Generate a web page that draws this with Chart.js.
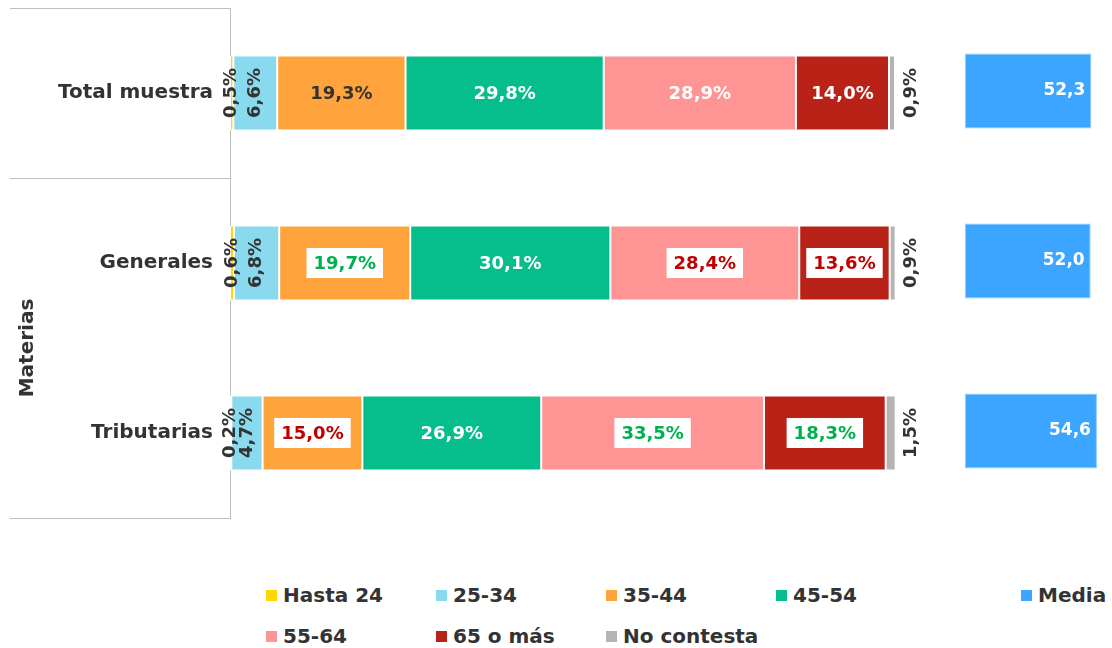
<!DOCTYPE html>
<html>
<head>
<meta charset="utf-8">
<script src="https://cdn.jsdelivr.net/npm/chart.js@4"></script>
<style>
body{margin:0;background:#fff;font-family:'DejaVu Sans',sans-serif;}
#wrap{position:relative;width:1112px;height:648px;overflow:hidden;}
#main{position:absolute;left:0;top:0;}
#media{position:absolute;left:930px;top:0;}
.leg{position:absolute;display:flex;align-items:center;height:24px;font-weight:bold;font-size:20px;color:#333;white-space:nowrap;}
.leg i{display:inline-block;width:11px;height:11px;margin-right:6px;}
</style>
</head>
<body>
<div id="wrap">
<canvas id="main" width="940" height="540"></canvas>
<canvas id="media" width="182" height="540"></canvas>
<div id="legend"></div>
</div>
<script>
var categories = ['Total muestra', 'Generales', 'Tributarias'];
var ageGroups = ['Hasta 24', '25-34', '35-44', '45-54', '55-64', '65 o más', 'No contesta'];
var ageColors = ['#ffd800', '#89d9ef', '#ffa33c', '#06bd8c', '#ff9494', '#b92317', '#b4b4b4'];

// % per age group, one array per row
var totalMuestra = [0.5, 6.6, 19.3, 29.8, 28.9, 14.0, 0.9];
var generales = [0.6, 6.8, 19.7, 30.1, 28.4, 13.6, 0.9];
var tributarias = [0.2, 4.7, 15.0, 26.9, 33.5, 18.3, 1.5];

// difference vs total: 1 higher (green), -1 lower (red)
var sigTotal = [0, 0, 0, 0, 0, 0, 0];
var sigGenerales = [0, 0, 1, 0, -1, -1, 0];
var sigTributarias = [0, 0, -1, 0, 1, 1, 0];

var mediaLabel = 'Media';
var mediaColor = '#3ca5ff';
var media = [52.3, 52.0, 54.6];

var groupTitle = 'Materias';

var rows = [totalMuestra, generales, tributarias];
var sigs = [sigTotal, sigGenerales, sigTributarias];
var textDark = '#333333';

function fmt(v, pct) {
	return v.toFixed(1).replace('.', ',') + (pct ? '%' : '');
}

var datasets = ageGroups.map(function(name, gi) {
	return {
		label: name,
		data: rows.map(function(r) { return r[gi]; }),
		backgroundColor: ageColors[gi],
		borderColor: '#ffffff',
		borderWidth: 1,
		borderSkipped: false,
		barPercentage: 0.44,
		categoryPercentage: 1
	};
});

function drawRotated(ctx, txt, x, y) {
	ctx.save();
	ctx.translate(x, y);
	ctx.rotate(-Math.PI / 2);
	ctx.fillText(txt, 0, 0);
	ctx.restore();
}

var segmentLabels = {
	id: 'segmentLabels',
	afterDatasetsDraw: function(chart) {
		var ctx = chart.ctx;
		ctx.save();
		ctx.font = 'bold 18px "DejaVu Sans"';
		ctx.textAlign = 'center';
		ctx.textBaseline = 'middle';
		var last = chart.data.datasets.length - 1;
		chart.data.datasets.forEach(function(ds, di) {
			var meta = chart.getDatasetMeta(di);
			meta.data.forEach(function(bar, i) {
				var p = bar.getProps(['x', 'y', 'base']);
				var txt = fmt(ds.data[i], true);
				var w = ctx.measureText(txt).width;
				var segW = Math.abs(p.x - p.base);
				var cx = (p.x + p.base) / 2;
				if (di == last) {
					ctx.fillStyle = textDark;
					drawRotated(ctx, txt, p.x + 16, p.y);
					return;
				}
				if (w + 8 > segW) {
					ctx.fillStyle = textDark;
					drawRotated(ctx, txt, cx, p.y);
					return;
				}
				var sig = sigs[i][di];
				if (sig != 0) {
					ctx.fillStyle = '#ffffff';
					ctx.fillRect(cx - w / 2 - 7, p.y - 15, w + 14, 30);
					ctx.fillStyle = sig > 0 ? '#00b050' : '#c00000';
				} else {
					ctx.fillStyle = di < 3 ? textDark : '#ffffff';
				}
				ctx.fillText(txt, cx, p.y + 1);
			});
		});
		ctx.restore();
	}
};

var groupLines = {
	id: 'groupLines',
	afterDraw: function(chart) {
		var ctx = chart.ctx;
		var area = chart.chartArea;
		var ys = chart.scales.y;
		var mid01 = (ys.getPixelForTick(0) + ys.getPixelForTick(1)) / 2;
		ctx.save();
		ctx.strokeStyle = '#bfbfbf';
		ctx.lineWidth = 1;
		[area.top, mid01, area.bottom].forEach(function(y) {
			ctx.beginPath();
			ctx.moveTo(10, Math.round(y) + 0.5);
			ctx.lineTo(area.left, Math.round(y) + 0.5);
			ctx.stroke();
		});
		ctx.fillStyle = textDark;
		ctx.font = 'bold 20px "DejaVu Sans"';
		ctx.textAlign = 'center';
		ctx.textBaseline = 'middle';
		var gy = (ys.getPixelForTick(1) + ys.getPixelForTick(2)) / 2;
		drawRotated(ctx, groupTitle, 28, gy);
		ctx.restore();
	}
};

new Chart(document.getElementById('main'), {
	type: 'bar',
	data: { labels: categories, datasets: datasets },
	plugins: [segmentLabels, groupLines],
	options: {
		indexAxis: 'y',
		responsive: false,
		animation: false,
		layout: { padding: { left: 0, right: 45, top: 8, bottom: 22 } },
		plugins: { legend: { display: false }, tooltip: { enabled: false } },
		scales: {
			x: { stacked: true, min: 0, max: 100, display: false },
			y: {
				stacked: true,
				grid: { display: false },
				border: { color: '#bfbfbf' },
				ticks: { padding: 9, color: textDark, font: { family: 'DejaVu Sans', size: 20, weight: 'bold' } },
				afterFit: function(s) {
					s.width = 230;
					s.paddingTop = 0;
					s.paddingBottom = 0;
				}
			}
		}
	}
});

var mediaLabels = {
	id: 'mediaLabels',
	afterDatasetsDraw: function(chart) {
		var ctx = chart.ctx;
		ctx.save();
		ctx.font = 'bold 17px "DejaVu Sans"';
		ctx.fillStyle = '#ffffff';
		ctx.textAlign = 'right';
		ctx.textBaseline = 'middle';
		chart.getDatasetMeta(0).data.forEach(function(bar, i) {
			ctx.fillText(fmt(media[i], false), bar.x - 6, bar.y);
		});
		ctx.restore();
	}
};

new Chart(document.getElementById('media'), {
	type: 'bar',
	data: {
		labels: categories,
		datasets: [{
			label: mediaLabel,
			data: media,
			backgroundColor: mediaColor,
			borderColor: '#8fcbff',
			borderWidth: 1,
			borderSkipped: false,
			barPercentage: 0.44,
			categoryPercentage: 1
		}]
	},
	plugins: [mediaLabels],
	options: {
		indexAxis: 'y',
		responsive: false,
		animation: false,
		layout: { padding: { left: 35, right: 2, top: 6, bottom: 24 } },
		plugins: { legend: { display: false }, tooltip: { enabled: false } },
		scales: {
			x: { min: 0, max: 60, display: false },
			y: { display: false }
		}
	}
});

// legend
var legend = document.getElementById('legend');
function addLegend(name, color, left, top) {
	var d = document.createElement('div');
	d.className = 'leg';
	d.style.left = left + 'px';
	d.style.top = top + 'px';
	d.innerHTML = '<i style="background:' + color + '"></i>' + name;
	legend.appendChild(d);
}
ageGroups.forEach(function(name, gi) {
	addLegend(name, ageColors[gi], 266 + (gi % 4) * 170, gi < 4 ? 583 : 624);
});
addLegend(mediaLabel, mediaColor, 1021, 583);
</script>
</body>
</html>
